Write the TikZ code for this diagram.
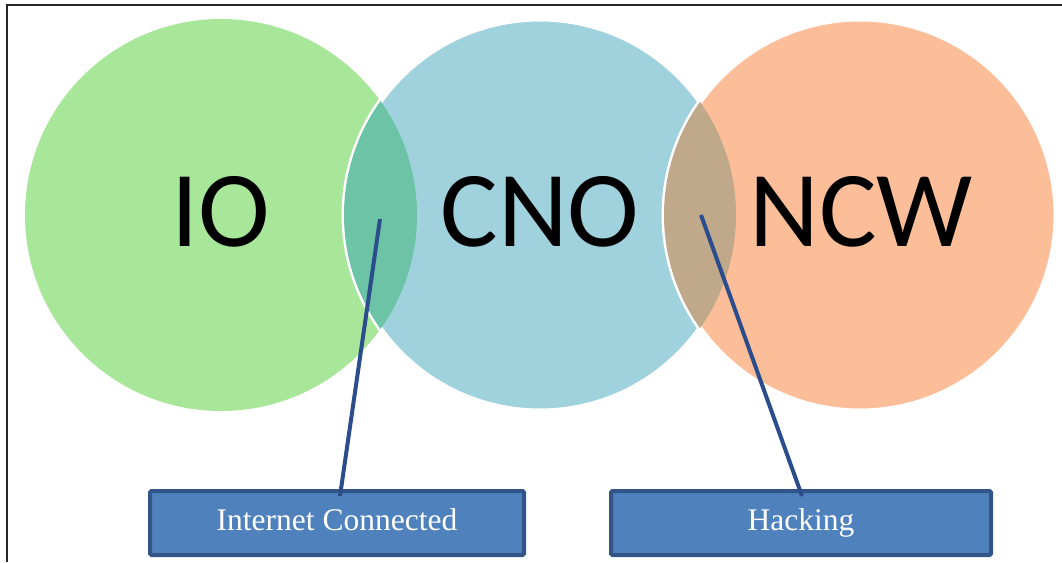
\documentclass[tikz,border=0pt]{standalone}
\usepackage{fontspec}
\setmainfont{Liberation Serif}
\newfontfamily\calib{Carlito}
\definecolor{cgreen}{RGB}{168,230,154}
\definecolor{cblue}{RGB}{160,210,222}
\definecolor{corange}{RGB}{251,190,152}
\definecolor{lensgb}{RGB}{108,195,165}
\definecolor{lensbo}{RGB}{192,168,138}
\definecolor{boxfill}{RGB}{79,129,189}
\definecolor{boxedge}{RGB}{50,85,135}
\definecolor{linkc}{RGB}{44,77,140}
\begin{document}
\begin{tikzpicture}[x=1pt,y=-1pt,
  setc/.style={circle,minimum size=392pt,inner sep=0pt},
  setlab/.style={font=\calib\fontsize{108}{110}\selectfont,anchor=base},
  labbox/.style={draw=boxedge,line width=4pt,fill=boxfill,minimum height=64pt,inner sep=0pt,text=white,font=\fontsize{31.5}{33}\selectfont,text height=21pt,text depth=7pt,rounded corners=1.5pt},
  link/.style={draw=linkc,line width=4pt}]
\useasboundingbox (0,0) rectangle (1062,562);
\draw[line width=2pt,black!85] (7,562) -- (7,5) -- (1062,5);
% circles
\node[setc,fill=cgreen] (io) at (221,215) {};
\node[setc,fill=cblue,draw=white,line width=5pt] (cno) at (540,215) {};
\begin{scope}
  \clip (221,215) circle[radius=196pt];
  \fill[lensgb] (540,215) circle[radius=196pt];
\end{scope}
\node[setc,fill=corange,draw=white,line width=5pt] (ncw) at (860,215) {};
\begin{scope}
  \clip (540,215) circle[radius=196pt];
  \fill[lensbo] (860,215) circle[radius=196pt];
\end{scope}
% labels
\node[setlab] (tio) at (221,246) {IO};
\node[setlab] (tcno) at (540,246) {CNO};
\node[setlab] (tncw) at (861,246) {NCW};
% connectors
\coordinate (p1) at (380,219);
\coordinate (q1) at (340,496);
\coordinate (p2) at (701,215);
\coordinate (q2) at (802,496);
% boxes
\node[labbox,minimum width=374pt] (b1) at (337,523) {Internet Connected};
\node[labbox,minimum width=380pt] (b2) at (801,523) {Hacking};
\draw[link] (p1) -- (q1);
\draw[link] (p2) -- (q2);
\end{tikzpicture}
\end{document}
